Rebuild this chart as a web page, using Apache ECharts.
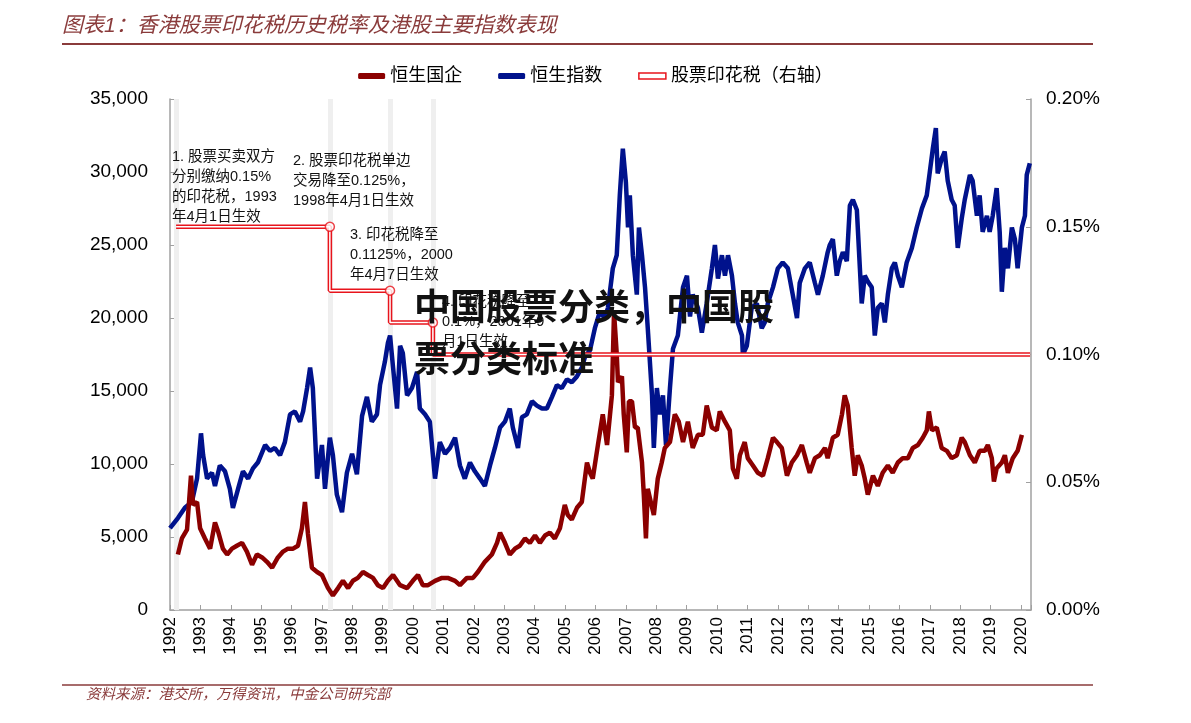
<!DOCTYPE html>
<html>
<head>
<meta charset="utf-8">
<script src="https://cdn.jsdelivr.net/npm/echarts@6/dist/echarts.min.js"></script>
<style>
  html, body { margin: 0; padding: 0; background: #fff; }
  #main { width: 1191px; height: 723px; }
</style>
</head>
<body>
<div id="main"></div>
<script>
// 恒生指数 [年份, 点位]
var hsiData = [
  [1992.00,5600],[1992.26,6300],[1992.49,7000],[1992.72,7400],[1992.89,9000],[1993.02,12100],[1993.09,10600],
  [1993.22,9000],[1993.38,9400],[1993.48,8500],[1993.64,9900],[1993.81,9500],[1993.97,8300],[1994.07,7000],
  [1994.24,8300],[1994.40,9500],[1994.57,9000],[1994.73,9700],[1994.89,10100],[1995.13,11300],[1995.29,10900],
  [1995.45,11100],[1995.62,10600],[1995.78,11500],[1995.95,13400],[1996.11,13600],[1996.28,12900],[1996.38,13600],
  [1996.51,15200],[1996.61,16600],[1996.70,15200],[1996.84,9000],[1997.00,11300],[1997.10,8300],[1997.26,11800],
  [1997.36,10600],[1997.49,7900],[1997.66,6700],[1997.82,9400],[1997.99,10700],[1998.15,9300],[1998.32,13300],
  [1998.48,14600],[1998.64,12900],[1998.81,13400],[1998.91,15400],[1999.07,17000],[1999.17,18300],[1999.24,18800],
  [1999.34,16600],[1999.47,13800],[1999.57,18100],[1999.66,17600],[1999.80,14700],[1999.96,15200],[2000.13,16300],
  [2000.22,13800],[2000.39,13400],[2000.55,12900],[2000.72,9000],[2000.88,11500],[2001.05,10700],[2001.21,11100],
  [2001.38,11800],[2001.54,9900],[2001.70,9000],[2001.87,10100],[2002.03,9500],[2002.20,9000],[2002.36,8500],
  [2002.53,9900],[2002.69,11100],[2002.86,12500],[2003.02,12900],[2003.18,13800],[2003.28,12500],[2003.45,11100],
  [2003.58,13200],[2003.74,13400],[2003.91,14300],[2004.07,14000],[2004.24,13800],[2004.40,13800],[2004.57,14600],
  [2004.73,15400],[2004.89,15200],[2005.06,15800],[2005.22,15600],[2005.39,16000],[2005.55,16600],[2005.65,17300],
  [2005.82,17800],[2005.98,19300],[2006.14,20400],[2006.31,20000],[2006.41,20700],[2006.57,23400],[2006.70,24300],
  [2006.80,28400],[2006.90,31600],[2007.00,29300],[2007.07,26200],[2007.13,28400],[2007.23,24300],[2007.36,21600],
  [2007.43,26200],[2007.53,24300],[2007.63,22100],[2007.72,19300],[2007.86,14700],[2007.92,11100],[2008.02,15200],
  [2008.12,13400],[2008.22,14700],[2008.32,11300],[2008.45,15200],[2008.55,17900],[2008.71,18800],[2008.88,22100],
  [2009.01,22900],[2009.11,20100],[2009.20,21600],[2009.37,20700],[2009.50,19000],[2009.66,21000],[2009.83,23400],
  [2009.93,25000],[2010.03,22700],[2010.16,24300],[2010.26,22900],[2010.36,24300],[2010.49,22900],[2010.59,21000],
  [2010.68,19700],[2010.82,18800],[2010.85,17500],[2010.98,18100],[2011.14,20700],[2011.31,21000],[2011.47,19300],
  [2011.57,19700],[2011.67,21000],[2011.84,22100],[2012.00,23400],[2012.16,23800],[2012.33,23400],[2012.49,21600],
  [2012.63,20000],[2012.72,22400],[2012.89,23400],[2013.05,23800],[2013.22,22400],[2013.32,21600],[2013.48,22900],
  [2013.64,24500],[2013.71,25000],[2013.81,25400],[2013.94,22900],[2014.04,23900],[2014.14,24500],[2014.27,23900],
  [2014.37,27700],[2014.47,28100],[2014.60,27400],[2014.70,23400],[2014.76,21000],[2014.86,22900],[2014.96,22500],
  [2015.09,22100],[2015.19,18800],[2015.29,20700],[2015.42,21000],[2015.52,19700],[2015.62,21600],[2015.75,23400],
  [2015.85,23800],[2015.95,22900],[2016.08,22100],[2016.24,23800],[2016.41,24800],[2016.57,26200],[2016.74,27500],
  [2016.90,28400],[2017.00,30000],[2017.10,31600],[2017.20,33000],[2017.26,29900],[2017.39,30900],[2017.49,31400],
  [2017.59,29400],[2017.72,28100],[2017.82,27700],[2017.92,24800],[2018.05,26800],[2018.15,28100],[2018.32,29800],
  [2018.41,29400],[2018.55,27000],[2018.64,28400],[2018.74,25900],[2018.88,27000],[2018.97,25900],[2019.07,27000],
  [2019.20,28900],[2019.30,25900],[2019.37,21800],[2019.47,24800],[2019.57,23400],[2019.70,26200],[2019.80,25400],
  [2019.89,23400],[2020.03,26200],[2020.13,27000],[2020.19,29800],[2020.29,30600]
];

// 恒生国企 [年份, 点位]
var hsceiData = [
  [1992.26,3800],[1992.39,4900],[1992.56,5500],[1992.69,9200],[1992.76,7200],[1992.89,7400],[1992.99,5600],
  [1993.15,4900],[1993.32,4200],[1993.48,6000],[1993.58,5400],[1993.74,4200],[1993.88,3800],[1994.04,4200],
  [1994.20,4400],[1994.37,4600],[1994.53,4000],[1994.70,3100],[1994.86,3800],[1995.03,3600],[1995.19,3300],
  [1995.36,2900],[1995.55,3600],[1995.72,4000],[1995.88,4200],[1996.05,4200],[1996.21,4400],[1996.34,5600],
  [1996.44,7400],[1996.54,5200],[1996.67,2900],[1996.84,2600],[1997.00,2400],[1997.20,1500],[1997.36,1000],
  [1997.53,1500],[1997.69,2000],[1997.86,1500],[1998.02,2000],[1998.18,2200],[1998.35,2600],[1998.51,2400],
  [1998.68,2200],[1998.84,1700],[1999.01,1500],[1999.17,2000],[1999.34,2400],[1999.57,1700],[1999.80,1500],
  [1999.99,2000],[2000.16,2400],[2000.32,1700],[2000.49,1700],[2000.72,2000],[2000.95,2200],[2001.14,2200],
  [2001.38,2000],[2001.54,1700],[2001.77,2200],[2001.97,2200],[2002.13,2600],[2002.36,3300],[2002.59,3800],
  [2002.76,4600],[2002.86,5300],[2003.02,4600],[2003.18,3800],[2003.35,4200],[2003.51,4400],[2003.68,4900],
  [2003.84,4600],[2004.01,5100],[2004.17,4600],[2004.34,5100],[2004.50,5300],[2004.66,4900],[2004.83,5600],
  [2004.99,7200],[2005.09,6500],[2005.22,6200],[2005.39,7000],[2005.55,7400],[2005.72,10100],[2005.82,9400],
  [2005.91,9000],[2006.08,11300],[2006.24,13400],[2006.38,11300],[2006.54,14700],[2006.61,20400],[2006.70,17500],
  [2006.74,15600],[2006.87,16000],[2006.93,13400],[2007.03,10800],[2007.10,14300],[2007.20,14300],[2007.30,12500],
  [2007.39,12500],[2007.53,10100],[2007.59,7900],[2007.66,4900],[2007.72,8300],[2007.82,7400],[2007.92,6500],
  [2008.05,9000],[2008.18,10100],[2008.28,11100],[2008.45,11500],[2008.61,13400],[2008.74,12900],[2008.88,11500],
  [2009.04,12900],[2009.20,11100],[2009.37,12000],[2009.53,12000],[2009.66,14000],[2009.83,12500],[2009.99,12300],
  [2010.09,13600],[2010.26,12900],[2010.42,12300],[2010.52,9700],[2010.65,9000],[2010.75,10600],[2010.91,11500],
  [2011.01,10400],[2011.18,9900],[2011.34,9400],[2011.51,9200],[2011.67,10400],[2011.84,11800],[2011.97,11500],
  [2012.13,11100],[2012.30,9200],[2012.46,10100],[2012.63,10600],[2012.79,11300],[2012.95,10100],[2013.05,9400],
  [2013.22,10400],[2013.38,10600],[2013.55,11100],[2013.64,10400],[2013.81,11800],[2013.97,12000],[2014.11,13400],
  [2014.20,14700],[2014.30,14000],[2014.43,11100],[2014.53,9200],[2014.63,10600],[2014.76,9900],[2014.86,9000],
  [2014.96,7900],[2015.13,9200],[2015.29,8500],[2015.45,9400],[2015.62,9900],[2015.78,9400],[2015.95,10100],
  [2016.11,10400],[2016.28,10400],[2016.44,11100],[2016.61,11300],[2016.77,11800],[2016.90,12300],[2016.97,13600],
  [2017.07,12300],[2017.23,12500],[2017.39,11100],[2017.56,10900],[2017.72,10400],[2017.89,10600],[2018.05,11800],
  [2018.15,11500],[2018.32,10600],[2018.48,10100],[2018.64,10900],[2018.81,10900],[2018.91,11300],[2019.04,10400],
  [2019.11,8800],[2019.20,9700],[2019.37,10100],[2019.47,10600],[2019.57,9400],[2019.73,10400],[2019.89,10900],
  [2020.03,12000]
];

// 股票印花税（%）
var stampData = [
  [1992.20,0.15],[1997.26,0.15],[1997.26,0.125],[1999.24,0.125],
  [1999.24,0.1125],[2000.65,0.1125],[2000.65,0.1],[2020.30,0.1]
];
var changePoints = [[1997.26,0.15],[1999.24,0.125],[2000.65,0.1125]];
var changeYears = [1992.20, 1997.26, 1999.24, 2000.65];

var notes = [
  '1. 股票买卖双方\n分别缴纳0.15%\n的印花税，1993\n年4月1日生效',
  '2. 股票印花税单边\n交易降至0.125%，\n1998年4月1日生效',
  '3. 印花税降至\n0.1125%，2000\n年4月7日生效',
  '4. 印花税降至\n0.1%，2001年9\n月1日生效'
];

var RED = '#e8141c';
var BROWN = '#8a3b3b';
var FONT = '"Liberation Sans", "Noto Sans CJK SC", sans-serif';

var myChart = echarts.init(document.getElementById('main'));

var option = {
    animation: false,
    textStyle: { fontFamily: FONT },
    grid: { left: 170, right: 160, top: 99, bottom: 113 },
    legend: {
        top: 62,
        left: 'center',
        itemWidth: 27,
        itemHeight: 6,
        itemGap: 36,
        textStyle: { fontSize: 18, color: '#000', fontFamily: FONT },
        data: [
            { name: '恒生国企', icon: 'roundRect', itemStyle: { color: '#8b0000' } },
            { name: '恒生指数', icon: 'roundRect', itemStyle: { color: '#00128c' } },
            { name: '股票印花税（右轴）', icon: 'rect', itemStyle: { color: '#fff', borderColor: RED, borderWidth: 1.5 } }
        ]
    },
    xAxis: {
        type: 'value',
        min: 1992,
        max: 2020.33,
        interval: 1,
        axisLine: { lineStyle: { color: '#a0a0a0', width: 1.5 } },
        axisTick: { inside: true, length: 5, lineStyle: { color: '#a0a0a0' } },
        splitLine: { show: false },
        axisLabel: {
            rotate: 90,
            margin: 7,
            fontSize: 17,
            color: '#000',
            formatter: function (v) { return Math.abs(v - Math.round(v)) < 1e-6 ? String(Math.round(v)) : ''; }
        }
    },
    yAxis: [
        {
            type: 'value',
            min: 0,
            max: 35000,
            interval: 5000,
            axisLine: { show: true, lineStyle: { color: '#a0a0a0', width: 1.5 } },
            axisTick: { show: true, inside: true, length: 5, lineStyle: { color: '#a0a0a0' } },
            splitLine: { show: false },
            axisLabel: {
                margin: 22,
                fontSize: 19,
                color: '#000',
                formatter: function (v) { return v.toLocaleString('en-US'); }
            }
        },
        {
            type: 'value',
            min: 0,
            max: 0.2,
            interval: 0.05,
            axisLine: { show: true, lineStyle: { color: '#a0a0a0', width: 1.5 } },
            axisTick: { show: true, inside: true, length: 5, lineStyle: { color: '#a0a0a0' } },
            splitLine: { show: false },
            axisLabel: {
                margin: 15,
                fontSize: 19,
                color: '#000',
                formatter: function (v) { return v.toFixed(2) + '%'; }
            }
        }
    ],
    series: [
        {
            name: 'bands',
            type: 'line',
            z: 1,
            data: [],
            markLine: {
                silent: true,
                z: 1,
                symbol: ['none', 'none'],
                label: { show: false },
                lineStyle: { color: '#efefef', width: 5, type: 'solid' },
                data: changeYears.map(function (y) { return { xAxis: y }; })
            }
        },
        {
            name: '恒生指数',
            type: 'line',
            z: 3,
            showSymbol: false,
            symbol: 'none',
            data: hsiData,
            lineStyle: { color: '#00128c', width: 4.5 },
            itemStyle: { color: '#00128c' }
        },
        {
            name: '恒生国企',
            type: 'line',
            z: 4,
            showSymbol: false,
            symbol: 'none',
            data: hsceiData,
            lineStyle: { color: '#8b0000', width: 4.5 },
            itemStyle: { color: '#8b0000' }
        },
        {
            name: '股票印花税（右轴）',
            type: 'line',
            yAxisIndex: 1,
            z: 5,
            symbol: 'none',
            data: stampData,
            lineStyle: { color: RED, width: 4.5 },
            itemStyle: { color: RED }
        },
        {
            name: 'stampInner',
            type: 'line',
            yAxisIndex: 1,
            z: 6,
            symbol: 'none',
            data: stampData,
            lineStyle: { color: '#fff', width: 1.5 }
        },
        {
            name: 'stampPoints',
            type: 'scatter',
            yAxisIndex: 1,
            z: 7,
            symbolSize: 9,
            data: changePoints,
            itemStyle: { color: '#fff', borderColor: RED, borderWidth: 1.5 }
        }
    ],
    graphic: [
        {
            type: 'text', left: 62, top: 16,
            style: { text: '图表1：香港股票印花税历史税率及港股主要指数表现', fontSize: 21, fontStyle: 'italic', fontFamily: FONT, fill: BROWN }
        },
        {
            type: 'line', shape: { x1: 62, y1: 44, x2: 1093, y2: 44 },
            style: { stroke: BROWN, lineWidth: 2 }
        },
        {
            type: 'line', shape: { x1: 62, y1: 685, x2: 1093, y2: 685 },
            style: { stroke: BROWN, lineWidth: 1.5 }
        },
        {
            type: 'text', left: 86, top: 688,
            style: { text: '资料来源：港交所，万得资讯，中金公司研究部', fontSize: 14.5, fontStyle: 'italic', fontFamily: FONT, fill: BROWN }
        },
        {
            type: 'text', left: 172, top: 147, z: 20,
            style: { text: notes[0], fontSize: 14.5, lineHeight: 20, fontFamily: FONT, fill: '#111' }
        },
        {
            type: 'text', left: 293, top: 151, z: 20,
            style: { text: notes[1], fontSize: 14.5, lineHeight: 20, fontFamily: FONT, fill: '#111' }
        },
        {
            type: 'text', left: 350, top: 225, z: 20,
            style: { text: notes[2], fontSize: 14.5, lineHeight: 20, fontFamily: FONT, fill: '#111' }
        },
        {
            type: 'text', left: 442, top: 292, z: 20,
            style: { text: notes[3], fontSize: 14.5, lineHeight: 20, fontFamily: FONT, fill: '#111' }
        },
        {
            type: 'text', left: 414, top: 280, z: 30,
            style: { text: '中国股票分类，中国股\n票分类标准', fontSize: 36, lineHeight: 52, fontWeight: 'bold', fontFamily: '"Noto Sans CJK SC", sans-serif', fill: '#111' }
        }
    ]
};

myChart.setOption(option);
</script>
</body>
</html>
